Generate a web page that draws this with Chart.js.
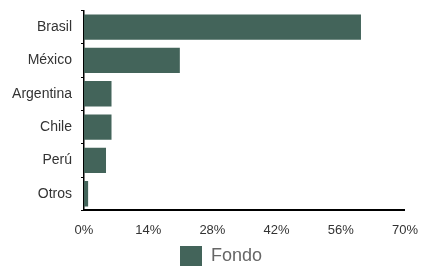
<!DOCTYPE html>
<html>
<head>
<meta charset="utf-8">
<script src="https://cdn.jsdelivr.net/npm/chart.js@4"></script>
<style>
  html, body { margin: 0; padding: 0; background: #fff; }
  #wrap { width: 422px; height: 266px; }
</style>
</head>
<body>
<div id="wrap"><canvas id="fondoChart"></canvas></div>
<script>
const paises = ['Brasil', 'México', 'Argentina', 'Chile', 'Perú', 'Otros'];
const fondo = [60.4, 20.9, 6.0, 6.0, 4.8, 0.9];
const xTicks = [0, 14, 28, 42, 56, 70];

const ctx = document.getElementById('fondoChart').getContext('2d');

// nudge the legend a bit right and down, like the reference
const moveLegend = {
  id: 'moveLegend',
  afterLayout(chart) {
    const lg = chart.legend;
    if (!lg) return;
    lg.left += 16; lg.right += 16;
    lg.top += 4; lg.bottom += 4;
  }
};

new Chart(ctx, {
  type: 'bar',
  data: {
    labels: paises,
    datasets: [{
      label: 'Fondo',
      data: fondo,
      backgroundColor: '#43645a',
      borderWidth: 0,
      categoryPercentage: 1,
      barPercentage: 0.76
    }]
  },
  options: {
    indexAxis: 'y',
    responsive: true,
    maintainAspectRatio: false,
    animation: false,
    layout: { padding: { top: 0, right: 12, left: 0, bottom: -6 } },
    plugins: {
      legend: {
        position: 'bottom',
        labels: {
          boxWidth: 22,
          boxHeight: 20,
          color: '#666',
          font: { family: 'Liberation Sans, Arial', size: 18 },
          padding: 0
        }
      },
      tooltip: { enabled: false }
    },
    scales: {
      x: {
        min: 0,
        max: 70,
        afterBuildTicks: scale => { scale.ticks = xTicks.map(v => ({ value: v })); },
        ticks: {
          callback: v => v + '%',
          color: '#333',
          padding: 4,
          font: { family: 'Liberation Sans, Arial', size: 13 }
        },
        grid: { display: false },
        border: { display: true, color: '#000', width: 2 }
      },
      y: {
        afterFit: scale => { scale.width = 84; },
        ticks: {
          color: '#333',
          padding: 9,
          font: { family: 'Liberation Sans, Arial', size: 14, lineHeight: 0.2 }
        },
        grid: {
          display: true,
          drawOnChartArea: false,
          drawTicks: true,
          tickLength: 3,
          color: '#000',
          offset: true
        },
        border: { display: true, color: '#000', width: 1.5 }
      }
    }
  },
  plugins: [moveLegend]
});
</script>
</body>
</html>
